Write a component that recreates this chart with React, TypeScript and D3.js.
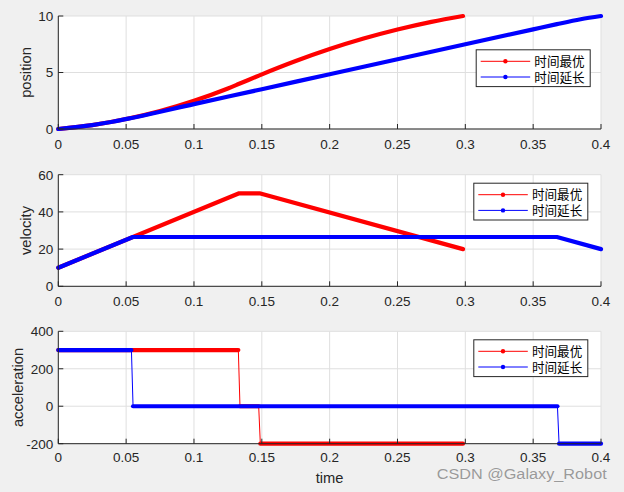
import React from "react";
import * as d3 from "d3";

// ---- data ----
const timeTicks = [0, 0.05, 0.1, 0.15, 0.2, 0.25, 0.3, 0.35, 0.4];
const positionTicks = [0, 5, 10];
const velocityTicks = [0, 20, 40, 60];
const accelTicks = [-200, 0, 200, 400];
const seriesNames = ["时间最优", "时间延长"];

// time-optimal (red)
const optPosT = [0, 0.025, 0.05, 0.075, 0.1, 0.125, 0.1333, 0.1483, 0.175, 0.2, 0.225, 0.25, 0.275, 0.2983];
const optPos = [0, 0.34, 0.88, 1.59, 2.5, 3.59, 4.0, 4.75, 6.01, 7.07, 8.0, 8.8, 9.48, 10.0];
const optVelT = [0, 0.1333, 0.1483, 0.2983];
const optVel = [10, 50, 50, 20];
const optPhaseT = [0, 0.1333, 0.1483, 0.2983];
const optAcc = [300, 0, -200];

// time-extended (blue)
const extPosT = [0, 0.025, 0.04, 0.055, 0.1, 0.15, 0.2, 0.25, 0.3, 0.35, 0.3675, 0.385, 0.4];
const extPos = [0, 0.34, 0.64, 1.0, 2.2, 3.52, 4.85, 6.17, 7.5, 8.82, 9.28, 9.71, 10.0];
const extVelT = [0, 0.055, 0.3675, 0.4];
const extVel = [10, 26.5, 26.5, 20];
const extPhaseT = [0, 0.0545, 0.3685, 0.4];
const extAcc = [300, 0, -200];

const sampleStep = 0.0012;

// ---- layout ----
const W = 624, H = 492;
const X0 = 58.3, X1 = 601;
const panels = [
  { top: 16, bottom: 129, ticks: positionTicks, label: "position", labelX: 31, tickDy: 20, legend: { x: 475.7, y: 49.3 } },
  { top: 174.7, bottom: 286.3, ticks: velocityTicks, label: "velocity", labelX: 31, tickDy: 20, legend: { x: 473.3, y: 182.7 } },
  { top: 331.3, bottom: 443.7, ticks: accelTicks, label: "acceleration", labelX: 23.3, tickDy: 18.5, legend: { x: 473.3, y: 339.3 } },
];
const colors = ["#ff0000", "#0000ff"];
const AX = "#262626";
const GRID = "#dfdfdf";
const FONT = "'Liberation Sans', Arial, Helvetica, sans-serif";
const CJK = "'Noto Sans CJK SC', sans-serif";
const THICK = 4.2;

const x = d3.scaleLinear().domain([0, 0.4]).range([X0, X1]);

function Axes({ p, children }: { p: any; children?: any }) {
  const y = d3.scaleLinear().domain([p.ticks[0], p.ticks[p.ticks.length - 1]]).range([p.bottom, p.top]);
  return (
    <g>
      <rect x={X0} y={p.top} width={X1 - X0} height={p.bottom - p.top} fill="#ffffff" />
      {timeTicks.map((t) => (
        <line key={"gx" + t} x1={x(t)} x2={x(t)} y1={p.top} y2={p.bottom} stroke={GRID} strokeWidth={1} />
      ))}
      {p.ticks.map((v: number) => (
        <line key={"gy" + v} x1={X0} x2={X1} y1={y(v)} y2={y(v)} stroke={GRID} strokeWidth={1} />
      ))}
      {children(y)}
      <line x1={X0} x2={X1} y1={p.bottom} y2={p.bottom} stroke={AX} strokeWidth={1} />
      <line x1={X0} x2={X0} y1={p.top} y2={p.bottom} stroke={AX} strokeWidth={1} />
      {timeTicks.map((t) => (
        <g key={"tx" + t}>
          <line x1={x(t)} x2={x(t)} y1={p.bottom} y2={p.bottom - 5} stroke={AX} />
          <text x={x(t)} y={p.bottom + p.tickDy} textAnchor="middle" fontSize={13.5} fontFamily={FONT} fill={AX}>
            {String(t)}
          </text>
        </g>
      ))}
      {p.ticks.map((v: number) => (
        <g key={"ty" + v}>
          <line x1={X0} x2={X0 + 5} y1={y(v)} y2={y(v)} stroke={AX} />
          <text x={X0 - 5} y={y(v) + 4.8} textAnchor="end" fontSize={13.5} fontFamily={FONT} fill={AX}>
            {String(v)}
          </text>
        </g>
      ))}
      <text
        transform={`translate(${p.labelX},${(p.top + p.bottom) / 2}) rotate(-90)`}
        textAnchor="middle"
        fontSize={14.7}
        fontFamily={FONT}
        fill={AX}
      >
        {p.label}
      </text>
      <Legend x0={p.legend.x} y0={p.legend.y} />
    </g>
  );
}

function Legend({ x0, y0 }: { x0: number; y0: number }) {
  const w = 114, h = 36.8;
  return (
    <g>
      <rect x={x0 + 0.5} y={y0 + 0.5} width={w} height={h} fill="#fff" stroke={AX} strokeWidth={1} />
      {seriesNames.map((n, i) => {
        const cy = y0 + 12 + i * 15.7;
        return (
          <g key={n}>
            <line x1={x0 + 5} x2={x0 + 54.5} y1={cy} y2={cy} stroke={colors[i]} strokeWidth={1} />
            <circle cx={x0 + 29.7} cy={cy} r={2.2} fill={colors[i]} />
            <text x={x0 + 58.6} y={cy + 4.6} fontSize={12.6} fontFamily={CJK} fill="#000">
              {n}
            </text>
          </g>
        );
      })}
    </g>
  );
}

function thickPath(ts: number[], vs: number[], y: any, curve: any) {
  const line = d3
    .line<number>()
    .x((_, i) => x(ts[i]))
    .y((d) => y(d))
    .curve(curve);
  return line(vs) || "";
}

function StepSeries({ ts, acc, y, color }: { ts: number[]; acc: number[]; y: any; color: string }) {
  const pts: [number, number][] = [];
  acc.forEach((a, i) => {
    const start = i === 0 ? ts[i] : ts[i] + sampleStep / 2;
    const end = i === acc.length - 1 ? ts[i + 1] : ts[i + 1] - sampleStep / 2;
    pts.push([start, a], [end, a]);
  });
  const thin = d3.line<[number, number]>().x((d) => x(d[0])).y((d) => y(d[1]))(pts) || "";
  return (
    <g>
      <path d={thin} fill="none" stroke={color} strokeWidth={1} />
      {acc.map((a, i) => {
        const start = i === 0 ? ts[i] : ts[i] + sampleStep / 2;
        const end = i === acc.length - 1 ? ts[i + 1] : ts[i + 1] - sampleStep / 2;
        return (
          <line
            key={i}
            x1={x(start)}
            x2={x(end)}
            y1={y(a)}
            y2={y(a)}
            stroke={color}
            strokeWidth={THICK}
            strokeLinecap="round"
          />
        );
      })}
    </g>
  );
}

export default function App() {
  return (
    <svg width={W} height={H} style={{ position: "absolute", left: 0, top: 0, display: "block" }}>
      <rect x={0} y={0} width={W} height={H} fill="#f0f0f0" />
      <Axes p={panels[0]}>
        {(y: any) => (
          <g>
            <path d={thickPath(optPosT, optPos, y, d3.curveMonotoneX)} fill="none" stroke={colors[0]} strokeWidth={THICK} strokeLinecap="round" strokeLinejoin="round" />
            <path d={thickPath(extPosT, extPos, y, d3.curveMonotoneX)} fill="none" stroke={colors[1]} strokeWidth={THICK} strokeLinecap="round" strokeLinejoin="round" />
          </g>
        )}
      </Axes>
      <Axes p={panels[1]}>
        {(y: any) => (
          <g>
            <path d={thickPath(optVelT, optVel, y, d3.curveLinear)} fill="none" stroke={colors[0]} strokeWidth={THICK} strokeLinecap="round" strokeLinejoin="round" />
            <path d={thickPath(extVelT, extVel, y, d3.curveLinear)} fill="none" stroke={colors[1]} strokeWidth={THICK} strokeLinecap="round" strokeLinejoin="round" />
          </g>
        )}
      </Axes>
      <Axes p={panels[2]}>
        {(y: any) => (
          <g>
            <StepSeries ts={optPhaseT} acc={optAcc} y={y} color={colors[0]} />
            <StepSeries ts={extPhaseT} acc={extAcc} y={y} color={colors[1]} />
          </g>
        )}
      </Axes>
      <text x={(X0 + X1) / 2} y={483} textAnchor="middle" fontSize={14.7} fontFamily={FONT} fill={AX}>
        time
      </text>
      <text
        x={436.7}
        y={478.5}
        fontSize={15.4}
        textLength={170}
        lengthAdjust="spacingAndGlyphs"
        fontFamily={FONT}
        fill="#9a9a9a"
        stroke="#ffffff"
        strokeWidth={0.6}
        strokeOpacity={0.6}
        paintOrder="stroke"
      >
        CSDN @Galaxy_Robot
      </text>
    </svg>
  );
}
